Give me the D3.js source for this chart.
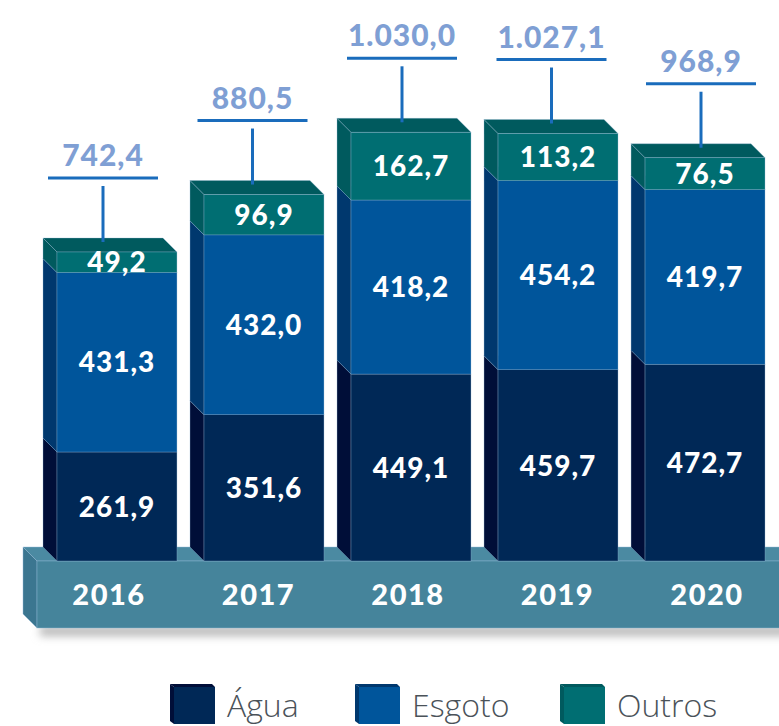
<!DOCTYPE html>
<html>
<head>
<meta charset="utf-8">
<script src="https://cdn.jsdelivr.net/npm/d3@7/dist/d3.min.js"></script>
<style>
  html, body { margin: 0; padding: 0; background: #ffffff; }
  svg { display: block; }
</style>
</head>
<body>
<svg id="chart" width="779" height="726"></svg>
<script>
// Receita por segmento (R$ milhões)
const years = ["2016", "2017", "2018", "2019", "2020"];
const agua = [261.9, 351.6, 449.1, 459.7, 472.7];
const esgoto = [431.3, 432.0, 418.2, 454.2, 419.7];
const outros = [49.2, 96.9, 162.7, 113.2, 76.5];
const totals = [742.4, 880.5, 1030.0, 1027.1, 968.9];
const seriesNames = ["Água", "Esgoto", "Outros"];

const palette = {
  "Água":   { front: "#002856", side: "#000e38", top: "#002350" },
  "Esgoto": { front: "#00559b", side: "#00386e", top: "#00477f" },
  "Outros": { front: "#006e72", side: "#005a5e", top: "#005a5e" }
};

const ptBR = d3.formatLocale({ decimal: ",", thousands: ".", grouping: [3], currency: ["R$ ", ""] });
const fmt = ptBR.format(",.1f");

const svg = d3.select("#chart");
const W = 779;
const depth = 14;
const baseY = 561;

const x = d3.scaleBand().domain(years).range([57, 765]).paddingInner(0.184).paddingOuter(0);
const y = d3.scaleLinear().domain([0, 1030]).range([baseY, baseY - 428.7]);
const labelX = d3.scalePoint().domain(years).range([103, 701]);

const rows = years.map((yr, i) => ({
  year: yr,
  total: totals[i],
  parts: [
    { name: "Água", value: agua[i] },
    { name: "Esgoto", value: esgoto[i] },
    { name: "Outros", value: outros[i] }
  ]
}));
rows.forEach(r => {
  let acc = 0;
  r.parts.forEach(p => { p.v0 = acc; acc += p.value; p.v1 = acc; });
});

const edge = "rgba(150,185,215,0.55)";
const numFont = "Lato, sans-serif";

// shadow under the platform
const defs = svg.append("defs");
defs.append("filter").attr("id", "soft").attr("x", "-5%").attr("y", "-100%").attr("width", "110%").attr("height", "300%")
  .append("feGaussianBlur").attr("stdDeviation", 4);
svg.append("rect").attr("x", 40).attr("y", 626).attr("width", W).attr("height", 10)
  .attr("fill", "#b8b8b8").attr("filter", "url(#soft)");

// platform
const pTop = baseY, pBottom = 628, pLeft = 37;
const platform = svg.append("g");
platform.append("polygon")
  .attr("points", [[pLeft, pTop], [W + 20, pTop], [W + 20 - depth, pTop - depth], [pLeft - depth, pTop - depth]].join(" "))
  .attr("fill", "#4b8aa2").attr("stroke", edge).attr("stroke-width", 0.8);
platform.append("polygon")
  .attr("points", [[pLeft, pTop], [pLeft, pBottom], [pLeft - depth, pBottom - depth], [pLeft - depth, pTop - depth]].join(" "))
  .attr("fill", "#3b7690").attr("stroke", edge).attr("stroke-width", 0.8);
platform.append("rect")
  .attr("x", pLeft).attr("y", pTop).attr("width", W + 20 - pLeft).attr("height", pBottom - pTop)
  .attr("fill", "#45849b").attr("stroke", edge).attr("stroke-width", 0.8);

// 3D stacked bars
const bars = svg.append("g").selectAll("g").data(rows).join("g");
bars.each(function (r) {
  const g = d3.select(this);
  const xl = x(r.year), w = x.bandwidth();
  r.parts.forEach(p => {
    const y0 = y(p.v0), y1 = y(p.v1);
    const c = palette[p.name];
    g.append("polygon")
      .attr("points", [[xl, y0], [xl, y1], [xl - depth, y1 - depth], [xl - depth, y0 - depth]].join(" "))
      .attr("fill", c.side).attr("stroke", edge).attr("stroke-width", 0.6);
    g.append("polygon")
      .attr("points", [[xl, y1], [xl + w, y1], [xl + w - depth, y1 - depth], [xl - depth, y1 - depth]].join(" "))
      .attr("fill", c.top).attr("stroke", edge).attr("stroke-width", 0.6);
    g.append("rect")
      .attr("x", xl).attr("y", y1).attr("width", w).attr("height", y0 - y1)
      .attr("fill", c.front).attr("stroke", edge).attr("stroke-width", 0.6);
  });
});

// value labels inside each segment
bars.each(function (r) {
  const g = d3.select(this);
  const cx = x(r.year) + x.bandwidth() / 2;
  r.parts.forEach(p => {
    const cy = (y(p.v0) + y(p.v1)) / 2;
    g.append("text")
      .attr("x", cx).attr("y", cy + 3)
      .attr("text-anchor", "middle").attr("dominant-baseline", "middle")
      .attr("font-family", numFont).attr("font-weight", 900)
      .attr("font-size", 28).attr("letter-spacing", 1)
      .attr("fill", "#ffffff")
      .text(fmt(p.value));
  });
});

// total callouts
const callouts = svg.append("g").selectAll("g").data(rows).join("g");
callouts.each(function (r) {
  const g = d3.select(this);
  const cx = labelX(r.year);
  const yTop = y(r.total);
  const hY = yTop - 74;
  g.append("line").attr("x1", cx - 55).attr("x2", cx + 55).attr("y1", hY).attr("y2", hY)
    .attr("stroke", "#1a6cbc").attr("stroke-width", 3);
  g.append("line").attr("x1", cx).attr("x2", cx).attr("y1", hY + 8).attr("y2", yTop - 10)
    .attr("stroke", "#1a6cbc").attr("stroke-width", 3);
  g.append("text").attr("x", cx).attr("y", hY - 12)
    .attr("text-anchor", "middle")
    .attr("font-family", numFont).attr("font-weight", 900)
    .attr("font-size", 30).attr("letter-spacing", 1)
    .attr("fill", "#7f9fd4")
    .text(fmt(r.total));
});

// year labels on the platform
svg.append("g").selectAll("text").data(years).join("text")
  .attr("x", d => labelX(d) + 6).attr("y", 605)
  .attr("text-anchor", "middle")
  .attr("font-family", numFont).attr("font-weight", 900)
  .attr("font-size", 29).attr("letter-spacing", 1.5)
  .attr("fill", "#ffffff")
  .text(d => d);

// legend
const legendX = [174, 359, 564];
const legend = svg.append("g").selectAll("g").data(seriesNames).join("g")
  .attr("transform", (d, i) => `translate(${legendX[i]},684)`);
legend.append("polygon")
  .attr("points", [[0, 3], [0, 40], [-4, 37], [-4, 0]].join(" "))
  .attr("fill", d => palette[d].side);
legend.append("polygon")
  .attr("points", [[-4, 0], [38, 0], [41, 3], [0, 3]].join(" "))
  .attr("fill", d => palette[d].side);
legend.append("rect").attr("x", 0).attr("y", 3).attr("width", 41).attr("height", 37)
  .attr("fill", d => palette[d].front);
legend.append("text")
  .attr("x", 53).attr("y", 33)
  .attr("font-family", "'Open Sans', sans-serif").attr("font-weight", 300)
  .attr("font-size", 32).attr("fill", "#4a5259")
  .text(d => d);
</script>
</body>
</html>
